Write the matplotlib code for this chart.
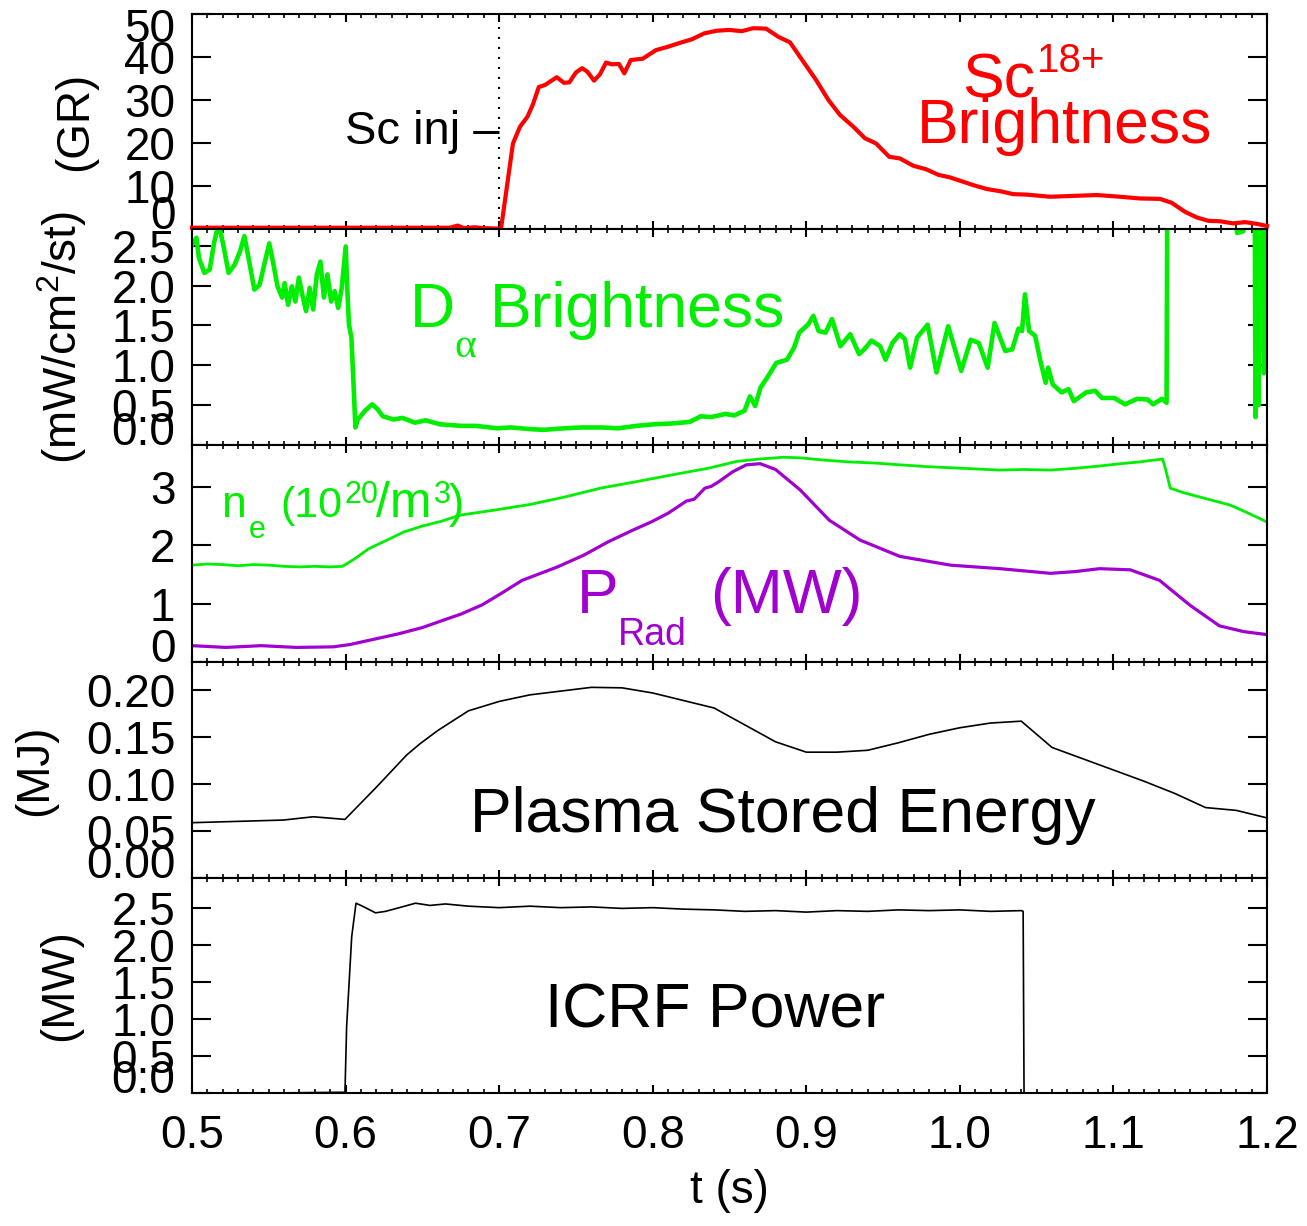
import matplotlib.pyplot as plt
import matplotlib.transforms as mtransforms
from matplotlib.ticker import MultipleLocator

plt.rcParams['font.family'] = ['Liberation Sans', 'DejaVu Sans']
plt.rcParams['mathtext.fontset'] = 'custom'
plt.rcParams['mathtext.rm'] = 'Liberation Sans'

W, H = 1307, 1226

# time axis
t_ticks = [0.5, 0.6, 0.7, 0.8, 0.9, 1.0, 1.1, 1.2]
t_labels = ['0.5', '0.6', '0.7', '0.8', '0.9', '1.0', '1.1', '1.2']

# Sc18+ brightness (GR)
sc_t = [0.500, 0.550, 0.600, 0.650, 0.668, 0.673, 0.677, 0.684, 0.690, 0.699, 0.7012,
        0.709, 0.7136, 0.7184, 0.7218, 0.7258, 0.7299, 0.7375, 0.7422, 0.7457, 0.750,
        0.754, 0.7574, 0.7618, 0.7657, 0.7696, 0.7733, 0.778, 0.7815, 0.7857, 0.7935,
        0.8021, 0.8101, 0.8178, 0.8254, 0.8336, 0.8416, 0.8499, 0.8579, 0.8655, 0.8738,
        0.8818, 0.8894, 0.8981, 0.9063, 0.9144, 0.922, 0.9306, 0.9382, 0.9454, 0.954,
        0.961, 0.9697, 0.978, 0.986, 0.9936, 1.0088, 1.0175, 1.0261, 1.0348, 1.0435,
        1.0587, 1.0739, 1.0891, 1.1043, 1.1173, 1.1303, 1.1379, 1.1466, 1.1542, 1.1618,
        1.1694, 1.178, 1.1857, 1.1933, 1.200]
sc_v = [0.3, 0.3, 0.3, 0.3, 0.3, 0.8, 0.2, 0.4, 0.2, 0.1, 0.0,
        19.9, 23.8, 26.1, 28.8, 33.0, 33.5, 35.3, 34.0, 34.1, 36.4,
        37.4, 36.6, 34.5, 36.0, 38.7, 38.3, 38.4, 36.2, 39.3, 39.6,
        41.6, 42.4, 43.3, 44.1, 45.5, 46.1, 46.3, 46.0, 46.7, 46.6,
        44.7, 43.4, 38.9, 34.7, 30.0, 26.5, 23.8, 21.1, 19.9, 16.8,
        16.4, 14.7, 13.9, 12.6, 12.0, 10.2, 9.3, 8.8, 8.1, 8.0,
        7.5, 7.7, 7.9, 7.5, 7.1, 7.0, 6.1, 4.0, 2.7, 1.9,
        1.8, 1.3, 1.6, 1.2, 0.7]

# D-alpha brightness (mW/cm2/st)
da_t = [0.500, 0.5029, 0.5045, 0.508, 0.5115, 0.5145, 0.5161, 0.5185, 0.5208, 0.5238,
        0.5277, 0.5313, 0.5341, 0.5364, 0.5406, 0.544, 0.5475, 0.5503, 0.5527, 0.5557,
        0.5587, 0.5603, 0.5626, 0.565, 0.5673, 0.5696, 0.572, 0.5743, 0.5766, 0.5789,
        0.5813, 0.5836, 0.5859, 0.5882, 0.5906, 0.5929, 0.5952, 0.5975, 0.6001, 0.601,
        0.6022, 0.6038, 0.6052, 0.6064, 0.608, 0.6127, 0.6173, 0.6208, 0.6243, 0.6313,
        0.637, 0.6452, 0.6521, 0.6614, 0.6754, 0.6847, 0.6986, 0.7079, 0.7196, 0.7289,
        0.7428, 0.7545, 0.7661, 0.7777, 0.7893, 0.801, 0.8126, 0.8242, 0.8312, 0.8381,
        0.8474, 0.853, 0.8598, 0.8633, 0.8667, 0.8702, 0.8747, 0.8805, 0.8874, 0.892,
        0.8954, 0.9011, 0.9046, 0.908, 0.9126, 0.9167, 0.9222, 0.9286, 0.9344, 0.9378,
        0.9424, 0.9481, 0.9516, 0.9561, 0.9608, 0.9642, 0.9676, 0.9722, 0.979, 0.9848,
        0.9924, 1.0009, 1.0071, 1.0123, 1.0181, 1.0226, 1.0295, 1.0341, 1.0382, 1.0405,
        1.0424, 1.0451, 1.049, 1.0525, 1.0559, 1.0575, 1.0605, 1.0662, 1.0708, 1.0742,
        1.0822, 1.0881, 1.0926, 1.1006, 1.1075, 1.1155, 1.1224, 1.1258, 1.1316, 1.1346,
        1.1350, 1.1352, 1.178, 1.1805, 1.1845, 1.186, 1.192, 1.1925, 1.193, 1.1935,
        1.194, 1.1945, 1.195, 1.196, 1.197, 1.198, 1.199, 1.200]
da_v = [2.51, 2.60, 2.35, 2.16, 2.20, 2.55, 2.68, 2.68, 2.47, 2.16,
        2.26, 2.43, 2.62, 2.39, 1.95, 2.01, 2.30, 2.53, 2.30, 1.99,
        1.85, 2.03, 1.76, 1.99, 1.80, 2.10, 1.87, 1.68, 1.97, 1.70,
        2.14, 2.30, 1.85, 2.14, 1.80, 1.93, 1.72, 1.97, 2.49, 2.01,
        1.51, 1.35, 0.76, 0.22, 0.32, 0.43, 0.51, 0.45, 0.36, 0.32,
        0.34, 0.28, 0.31, 0.26, 0.24, 0.24, 0.21, 0.22, 0.20, 0.19,
        0.21, 0.22, 0.22, 0.21, 0.24, 0.26, 0.27, 0.29, 0.36, 0.35,
        0.39, 0.37, 0.43, 0.61, 0.49, 0.72, 0.85, 1.03, 1.07, 1.22,
        1.41, 1.51, 1.62, 1.43, 1.41, 1.58, 1.24, 1.39, 1.14, 1.20,
        1.31, 1.24, 1.07, 1.28, 1.39, 1.33, 0.97, 1.35, 1.51, 0.91,
        1.49, 0.93, 1.32, 1.28, 0.97, 1.53, 1.18, 1.20, 1.46, 1.43,
        1.89, 1.43, 1.37, 1.05, 0.78, 0.97, 0.76, 0.66, 0.70, 0.55,
        0.66, 0.68, 0.59, 0.59, 0.51, 0.58, 0.57, 0.51, 0.58, 0.53,
        2.70, 3.20, 3.20, 2.66, 2.68, 3.20, 3.20, 0.35, 3.00, 0.60,
        3.00, 0.50, 2.90, 1.20, 3.00, 0.90, 3.00, 2.00]

# electron density (1e20/m3)
ne_t = [0.500, 0.510, 0.520, 0.530, 0.540, 0.550, 0.560, 0.570, 0.580, 0.590,
        0.598, 0.606, 0.615, 0.627, 0.638, 0.650, 0.662, 0.675, 0.696, 0.720,
        0.743, 0.766, 0.789, 0.813, 0.836, 0.855, 0.870, 0.885, 0.896, 0.912,
        0.928, 0.945, 0.961, 0.978, 0.994, 1.010, 1.026, 1.042, 1.059, 1.075,
        1.091, 1.105, 1.117, 1.132, 1.134, 1.137, 1.146, 1.156, 1.166, 1.176,
        1.188, 1.200]
ne_v = [1.66, 1.68, 1.67, 1.65, 1.67, 1.66, 1.64, 1.63, 1.64, 1.63,
        1.64, 1.77, 1.94, 2.09, 2.23, 2.33, 2.41, 2.52, 2.60, 2.70,
        2.83, 2.98, 3.09, 3.21, 3.32, 3.44, 3.48, 3.51, 3.50, 3.46,
        3.43, 3.41, 3.38, 3.35, 3.33, 3.31, 3.29, 3.30, 3.29, 3.32,
        3.36, 3.40, 3.43, 3.48, 3.30, 2.98, 2.90, 2.83, 2.76, 2.69,
        2.55, 2.40]

# radiated power (MW)
pr_t = [0.500, 0.522, 0.545, 0.568, 0.592, 0.603, 0.615, 0.634, 0.650, 0.664,
        0.675, 0.689, 0.701, 0.715, 0.738, 0.755, 0.771, 0.787, 0.799, 0.810,
        0.822, 0.827, 0.834, 0.838, 0.843, 0.852, 0.861, 0.870, 0.880, 0.896,
        0.915, 0.935, 0.961, 0.994, 1.026, 1.059, 1.075, 1.091, 1.111, 1.130,
        1.150, 1.169, 1.185, 1.200]
pr_v = [0.28, 0.25, 0.28, 0.25, 0.26, 0.30, 0.37, 0.48, 0.59, 0.72,
        0.82, 0.98, 1.17, 1.40, 1.63, 1.83, 2.06, 2.26, 2.40, 2.55,
        2.76, 2.79, 2.98, 3.01, 3.09, 3.26, 3.38, 3.40, 3.30, 2.95,
        2.43, 2.09, 1.81, 1.66, 1.60, 1.52, 1.55, 1.60, 1.58, 1.40,
        0.97, 0.62, 0.52, 0.47]

# plasma stored energy (MJ)
we_t = [0.500, 0.5595, 0.579, 0.5996, 0.6203, 0.6398, 0.6485, 0.660, 0.680, 0.700,
        0.720, 0.740, 0.760, 0.780, 0.800, 0.820, 0.840, 0.860, 0.880, 0.900,
        0.920, 0.940, 0.960, 0.980, 1.000, 1.020, 1.040, 1.060, 1.080, 1.100,
        1.120, 1.140, 1.160, 1.180, 1.200]
we_v = [0.0589, 0.0617, 0.0652, 0.0624, 0.0971, 0.131, 0.143, 0.157, 0.178, 0.188,
        0.195, 0.199, 0.203, 0.2025, 0.197, 0.189, 0.181, 0.163, 0.145, 0.134,
        0.134, 0.136, 0.144, 0.153, 0.160, 0.165, 0.167, 0.139, 0.127, 0.115,
        0.103, 0.090, 0.075, 0.072, 0.064]

# ICRF power (MW)
rf_t = [0.500, 0.550, 0.5996, 0.6007, 0.604, 0.6068, 0.611, 0.6195, 0.626, 0.635,
        0.6455, 0.655, 0.665, 0.680, 0.700, 0.720, 0.740, 0.760, 0.780, 0.800,
        0.820, 0.840, 0.860, 0.880, 0.900, 0.920, 0.940, 0.960, 0.980, 1.000,
        1.020, 1.040, 1.0412, 1.0418, 1.200]
rf_v = [0.0, 0.0, 0.01, 0.90, 2.11, 2.56, 2.52, 2.43, 2.45, 2.50,
        2.56, 2.53, 2.55, 2.52, 2.50, 2.52, 2.50, 2.51, 2.49, 2.50,
        2.48, 2.47, 2.45, 2.46, 2.44, 2.46, 2.45, 2.47, 2.46, 2.47,
        2.45, 2.46, 2.45, 0.0, 0.0]

RED = '#ff0000'
GREEN = '#00ee00'
PURPLE = '#a000d0'
TICK_FS = 33

fig = plt.figure(figsize=(W / 100, H / 100), dpi=100)
edges = [14, 229, 445, 662, 878, 1093]
axs = []
for i in range(5):
    top, bot = edges[i], edges[i + 1]
    axs.append(fig.add_axes([192 / W, 1 - bot / H, 1075 / W, (bot - top) / H]))


def style(ax, ylim, yticks, ylabels, ylabel, lab_x):
    ax.set_xlim(0.5, 1.2)
    ax.set_ylim(*ylim)
    ax.set_xticks(t_ticks)
    ax.set_xticklabels(t_labels)
    ax.xaxis.set_minor_locator(MultipleLocator(0.01))
    ax.set_yticks(yticks)
    ax.set_yticklabels(ylabels)
    ax.tick_params(axis='x', which='major', direction='in', top=True, bottom=True,
                   length=6, width=1.5, labelbottom=False, labelsize=TICK_FS, pad=15)
    ax.tick_params(axis='x', which='minor', direction='in', top=True, bottom=True,
                   length=3, width=1.2)
    ax.tick_params(axis='y', which='major', direction='in', left=True, right=True,
                   length=14, width=1.5, labelsize=TICK_FS, pad=12)
    for s in ax.spines.values():
        s.set_linewidth(1.5)
    ax.set_ylabel(ylabel, fontsize=33, va='center')
    ax.yaxis.set_label_coords((lab_x - 192) / 1075, 0.5)
    # bottom label sits on the axis like the original
    ax.yaxis.get_major_ticks()[0].label1.set_verticalalignment('baseline')


style(axs[0], (0, 50), [0, 10, 20, 30, 40, 50], ['0', '10', '20', '30', '40', '50'], '(GR)', 75)
top_lab = axs[0].yaxis.get_major_ticks()[-1].label1
top_lab.set_transform(top_lab.get_transform() +
                      mtransforms.ScaledTranslation(0, -0.11, fig.dpi_scale_trans))
style(axs[1], (0, 2.71), [0, 0.5, 1.0, 1.5, 2.0, 2.5], ['0.0', '0.5', '1.0', '1.5', '2.0', '2.5'],
      '(mW/cm$\\mathregular{^2}$/st)', 62)
style(axs[2], (0, 3.72), [0, 1, 2, 3], ['0', '1', '2', '3'], '', 60)
style(axs[3], (0, 0.23), [0, 0.05, 0.10, 0.15, 0.20], ['0.00', '0.05', '0.10', '0.15', '0.20'], '(MJ)', 35)
style(axs[4], (0, 2.9), [0, 0.5, 1.0, 1.5, 2.0, 2.5], ['0.0', '0.5', '1.0', '1.5', '2.0', '2.5'], '(MW)', 60)
axs[4].tick_params(axis='x', which='major', labelbottom=True)
axs[4].set_xlabel('t (s)', fontsize=33, labelpad=8)

axs[0].plot(sc_t, sc_v, color=RED, lw=3, clip_on=False, zorder=3)
axs[0].axvline(0.7, color='k', lw=1.5, ls=(0, (1, 3.8)))
axs[1].plot(da_t, da_v, color=GREEN, lw=3.3)
axs[2].plot(ne_t, ne_v, color=GREEN, lw=2)
axs[2].plot(pr_t, pr_v, color=PURPLE, lw=2.3)
axs[3].plot(we_t, we_v, color='k', lw=1.2)
axs[4].plot(rf_t, rf_v, color='k', lw=1.2)


def ptext(x, y, s, size, color='k', **kw):
    fig.text(x / W, 1 - y / H, s, fontsize=size, color=color, ha='left', va='baseline', **kw)


ptext(345, 144, 'Sc inj \u2013', 34)
ptext(962, 98, 'Sc', 45, RED)
ptext(1037, 72, '18+', 29, RED)
ptext(917, 143, 'Brightness', 45, RED)

ptext(410, 327, 'D', 45, GREEN)
ptext(454, 357, '\u03b1', 30, GREEN, family='Liberation Serif')
ptext(490, 327, 'Brightness', 45, GREEN)

ptext(222, 517, 'n', 32, GREEN)
ptext(249, 538, 'e', 22, GREEN)
ptext(280, 517, '(10', 31, GREEN)
ptext(344, 503, '20', 22, GREEN)
ptext(376, 517, '/m', 36, GREEN)
ptext(434, 503, '3', 22, GREEN)
ptext(449, 517, ')', 33, GREEN)

ptext(577, 613, 'P', 45, PURPLE)
ptext(618, 645, 'Rad', 27, PURPLE)
ptext(710, 613, '(MW)', 45, PURPLE)

ptext(470, 832, 'Plasma Stored Energy', 45)
ptext(545, 1028, 'ICRF Power', 45)

fig.savefig('out.png', dpi=100)
